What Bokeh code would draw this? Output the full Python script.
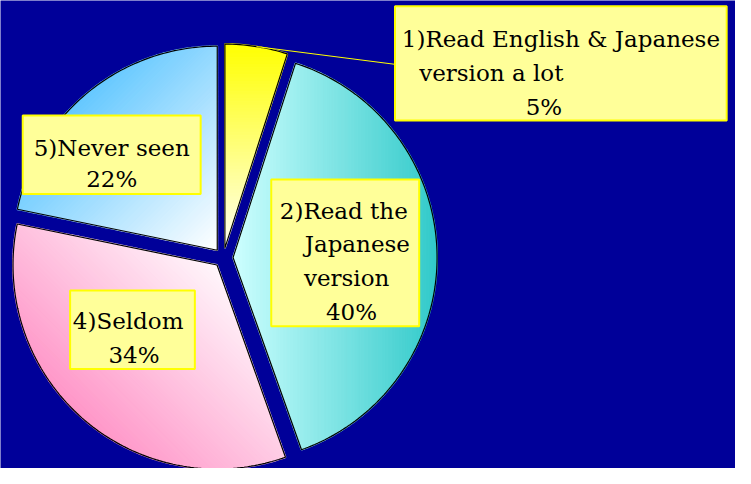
import math
from bokeh.plotting import figure
from bokeh.models import Range1d
from bokeh.core.properties import value
from bokeh.embed import file_html
from bokeh.resources import INLINE

# ---------------- data ----------------
categories = ["1)Read English & Japanese version a lot",
              "2)Read the Japanese version",
              "4)Seldom",
              "5)Never seen"]
values = [5, 40, 34, 22]
pct_labels = ["5%", "40%", "34%", "22%"]
label_lines = [["1)Read English & Japanese", "version a lot"],
               ["2)Read the", "Japanese", "version"],
               ["4)Seldom"],
               ["5)Never seen"]]

# ---------------- layout / style ----------------
W, H = 735, 468
SCALE = H / 484.0
BG = "#000099"
CX, CY, R, EXPLODE = 230.5, 266.0, 211.0, 10.0
# gradient: direction (screen coords, y down), start rgb, end rgb
gradients = [
    ((0.0, 1.0), (255, 255, 0), (255, 255, 242)),
    ((1.0, 0.0), (206, 255, 255), (50, 202, 202)),
    ((0.7071, -0.7071), (255, 150, 200), (255, 246, 251)),
    ((0.7071, 0.7071), (100, 200, 255), (255, 255, 255)),
]
# label boxes: left, right, top, bottom
boxes = [(408, 751, 6, 124), (280, 433, 185, 337), (72, 201, 300, 381), (23, 207, 119, 200)]
# per-line positions (x, baseline y, align)
line_pos = [
    [(415, 40, "left"), (433, 75, "left"), (562, 110, "center")],
    [(355, 218, "center"), (369, 252, "center"), (358, 287, "center"), (363, 322, "center")],
    [(132, 331, "center"), (138, 367, "center")],
    [(115, 153, "center"), (115, 185, "center")],
]
leader_end = (408, 66)

# ---------------- helpers ----------------
def clip(poly, u, t, keep_ge):
    out = []
    n = len(poly)
    for i in range(n):
        P, Q = poly[i], poly[(i + 1) % n]
        dp = P[0] * u[0] + P[1] * u[1] - t
        dq = Q[0] * u[0] + Q[1] * u[1] - t
        if not keep_ge:
            dp, dq = -dp, -dq
        if dp >= 0:
            out.append(P)
        if (dp >= 0) != (dq >= 0):
            s = dp / (dp - dq)
            out.append((P[0] + s * (Q[0] - P[0]), P[1] + s * (Q[1] - P[1])))
    return out

def hexcol(c):
    return "#%02x%02x%02x" % tuple(int(round(v)) for v in c)

total = float(sum(values))
p = figure(width=W, height=H, x_range=Range1d(0, W / SCALE), y_range=Range1d(H / SCALE, 0),
           output_backend="svg", toolbar_location=None, min_border=0)
p.background_fill_color = BG
p.border_fill_color = BG
p.outline_line_color = None
p.axis.visible = False
p.grid.visible = False

band_xs, band_ys, band_cols = [], [], []
out_xs, out_ys = [], []
mids = []
start = 0.0
for i, v in enumerate(values):
    a0 = start
    a1 = start + v / total * 360.0
    start = a1
    mid = math.radians((a0 + a1) / 2)
    ax = CX + EXPLODE * math.sin(mid)
    ay = CY - EXPLODE * math.cos(mid)
    n = max(4, int((a1 - a0) / 1.0))
    poly = [(ax, ay)]
    for k in range(n + 1):
        a = math.radians(a0 + (a1 - a0) * k / n)
        poly.append((ax + R * math.sin(a), ay - R * math.cos(a)))
    mids.append((ax + R * math.sin(mid), ay - R * math.cos(mid)))
    out_xs.append([q[0] for q in poly])
    out_ys.append([q[1] for q in poly])
    u, c0, c1 = gradients[i]
    proj = [q[0] * u[0] + q[1] * u[1] for q in poly]
    tmin, tmax = min(proj), max(proj)
    nb = 60
    for b in range(nb):
        t0 = tmin + (tmax - tmin) * b / nb
        t1 = tmin + (tmax - tmin) * (b + 1) / nb
        band = clip(clip(poly, u, t0, True), u, t1, False)
        if len(band) < 3:
            continue
        f = (b + 0.5) / nb
        col = [c0[j] + (c1[j] - c0[j]) * f for j in range(3)]
        band_xs.append([q[0] for q in band])
        band_ys.append([q[1] for q in band])
        band_cols.append(hexcol(col))

p.patches(xs=band_xs, ys=band_ys, fill_color=band_cols, line_color=band_cols, line_width=1.8)
p.patches(xs=out_xs, ys=out_ys, fill_color=None, line_color="black", line_width=1.2)

# leader line for first slice
p.line(x=[mids[0][0], leader_end[0]], y=[mids[0][1], leader_end[1]], line_color="#ffff00", line_width=1)

# label boxes
p.quad(left=[b[0] for b in boxes], right=[b[1] for b in boxes],
       top=[b[2] for b in boxes], bottom=[b[3] for b in boxes],
       fill_color="#ffff99", line_color="#ffff00", line_width=2)

# label texts
font_px = "%dpx" % round(24 * SCALE)
for i in range(len(values)):
    lines = label_lines[i] + [pct_labels[i]]
    for txt, (x, y, al) in zip(lines, line_pos[i]):
        p.text(x=[x], y=[y], text=[txt], text_font=value("DejaVu Serif"),
               text_font_size=font_px, text_color="black", text_align=al,
               text_baseline="alphabetic")

open("out.html", "w").write(file_html(p, INLINE))
